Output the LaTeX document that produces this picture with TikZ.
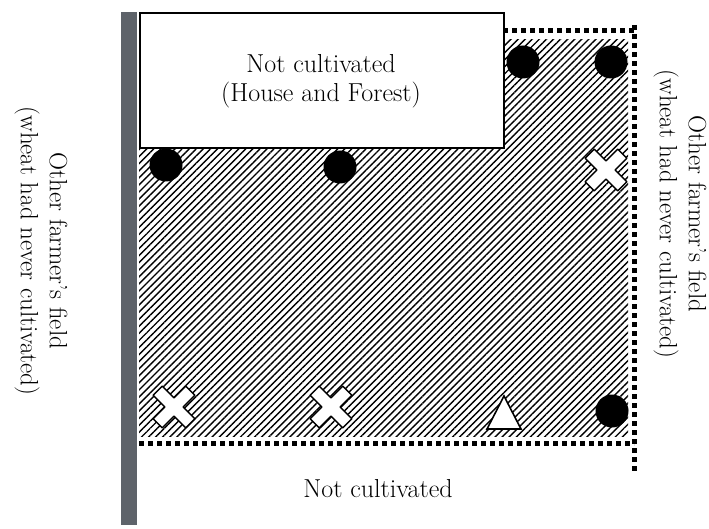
\documentclass[tikz,border=0pt]{standalone}
\usetikzlibrary{patterns.meta}
\definecolor{wallgray}{HTML}{5E636A}
\tikzset{
  label text/.style={font=\fontsize{25}{29}\selectfont, align=center, inner sep=0pt},
  boundary/.style={line width=5pt, dash pattern=on 5pt off 4pt},
  plot point/.style={circle, fill=black, minimum size=33pt, inner sep=0pt},
  pics/crossmark/.style={code={
    \draw[line width=1.4pt, fill=white, rotate=45, line join=round]
      (-6.5,-23) -- (6.5,-23) -- (6.5,-6.5) -- (23,-6.5) -- (23,6.5) -- (6.5,6.5)
      -- (6.5,23) -- (-6.5,23) -- (-6.5,6.5) -- (-23,6.5) -- (-23,-6.5) -- (-6.5,-6.5) -- cycle;
  }},
  pics/trimark/.style={code={
    \draw[line width=1.6pt, fill=white, line join=miter]
      (0,-17) -- (17,16) -- (-17,16) -- cycle;
  }}
}
\begin{document}
\begin{tikzpicture}[x=1pt, y=-1pt]
\useasboundingbox (0,0) rectangle (709,529);

% cultivated area
\fill[pattern={Lines[angle=45, distance=5pt, line width=1.4pt]}] (139,40) rectangle (628,436);

% wall on the left
\fill[wallgray] (121,12) rectangle (137,525);

% house and forest block
\node[draw, line width=2pt, fill=white, minimum width=364pt, minimum height=135pt,
      inner sep=0pt, anchor=north west] (house) at (139,12) {};
\node[label text, font=\fontsize{26}{29}\selectfont] (houselbl) at (321,81) {Not cultivated\\(House and Forest)};

% field boundaries
\coordinate (tl) at (503,31);
\coordinate (tr) at (634,31);
\coordinate (rt) at (634,25);
\coordinate (rb) at (634,472);
\coordinate (bl) at (139,443);
\coordinate (br) at (634,443);
\draw[boundary] (tl) -- (tr);
\draw[boundary] (rt) -- (rb);
\draw[boundary] (bl) -- (br);

% markers
\node[plot point] (c1) at (166,165) {};
\node[plot point] (c2) at (340,167) {};
\node[plot point] (c3) at (523,62) {};
\node[plot point] (c4) at (611,62) {};
\node[plot point] (c5) at (612,411) {};
\pic at (606,170) {crossmark};
\pic at (174,407) {crossmark};
\pic at (331,407) {crossmark};
\pic at (504,413) {trimark};

% surrounding labels
\node[label text, rotate=-90] (leftlbl) at (41,251) {Other farmer's field\\(wheat had never cultivated)};
\node[label text, rotate=-90] (rightlbl) at (680,214) {Other farmer's field\\(wheat had never cultivated)};
\node[label text, font=\fontsize{26}{29}\selectfont] (bottomlbl) at (378,489) {Not cultivated};
\end{tikzpicture}
\end{document}
